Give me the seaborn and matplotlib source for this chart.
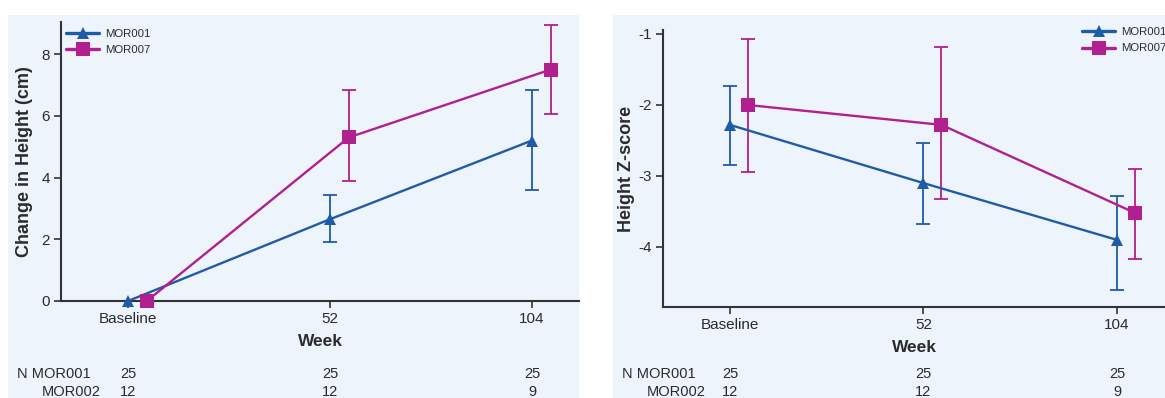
import numpy as np
import pandas as pd
import matplotlib
matplotlib.use("Agg")
import matplotlib.pyplot as plt
import matplotlib.transforms as mtransforms
from matplotlib.patches import Rectangle
import seaborn as sns

# ---- data ----
weeks = ["Baseline", "52", "104"]
groups = ["MOR001", "MOR007"]

# left panel: change in height (cm)
chg_mor001 = [0.0, 2.65, 5.2]
chg_mor001_lo = [0.0, 1.9, 3.6]
chg_mor001_hi = [0.0, 3.45, 6.85]
chg_mor007 = [0.0, 5.3, 7.5]
chg_mor007_lo = [0.0, 3.9, 6.05]
chg_mor007_hi = [0.0, 6.85, 8.95]

# right panel: height z-score
z_mor001 = [-2.28, -3.1, -3.9]
z_mor001_lo = [-2.85, -3.67, -4.6]
z_mor001_hi = [-1.73, -2.53, -3.28]
z_mor007 = [-2.0, -2.28, -3.52]
z_mor007_lo = [-2.95, -3.32, -4.17]
z_mor007_hi = [-1.07, -1.19, -2.9]

# number of subjects table
n_labels = ["N MOR001", "MOR002"]
n_mor001 = [25, 25, 25]
n_mor002 = [12, 12, 9]

COLORS = {"MOR001": "#1f5ba6", "MOR007": "#b0208e"}
MARKERS = {"MOR001": "^", "MOR007": "s"}
MSIZE = {"MOR001": 8, "MOR007": 9.5}
DODGE = {"MOR001": 0.0, "MOR007": 0.093}
BG = "#eef4fb"
TXT = "#2b2b2b"

sns.set_theme(style="ticks")
plt.rcParams["font.family"] = ["Liberation Sans", "DejaVu Sans"]
plt.rcParams["axes.unicode_minus"] = False

fig = plt.figure(figsize=(11.65, 3.98), dpi=100)
fig.patch.set_facecolor("white")
W, H = 1165, 398

# panel backgrounds (in pixels -> figure fraction)
for x0, x1 in [(8, 579), (613, 1165)]:
    fig.patches.append(Rectangle((x0 / W, 0), (x1 - x0) / W, 1 - 15 / H,
                                 transform=fig.transFigure, facecolor=BG,
                                 edgecolor="none", zorder=-10))


def px_axes(left, right, top, bottom):
    return fig.add_axes([left / W, 1 - bottom / H, (right - left) / W, (bottom - top) / H])


def draw_panel(ax, vals, los, his, ylabel, xlim, ylim, yticks, legend_anchor, ylabel_x):
    rows = []
    for g, v in zip(groups, vals):
        for i, y in enumerate(v):
            rows.append({"x": i + DODGE[g], "y": y, "group": g})
    df = pd.DataFrame(rows)
    sns.lineplot(data=df, x="x", y="y", hue="group", style="group",
                 palette=COLORS, markers=MARKERS, dashes=False, lw=1.7,
                 ax=ax, legend=True, markeredgewidth=0, clip_on=False, zorder=3)
    for g, v, lo, hi in zip(groups, vals, los, his):
        x = np.arange(len(v)) + DODGE[g]
        v = np.asarray(v)
        yerr = [v - np.asarray(lo), np.asarray(hi) - v]
        ax.errorbar(x, v, yerr=yerr, fmt="none", ecolor=COLORS[g], elinewidth=1.3,
                    capsize=5, capthick=1.3, zorder=2, clip_on=False)
    handles, labels = ax.get_legend_handles_labels()
    for h, l in zip(handles, labels):
        h.set_markersize(MSIZE.get(l, 8))
        h.set_linewidth(2.4)
    for line, g in zip(ax.lines[:2], groups):
        line.set_markersize(MSIZE[g])
    ax.legend(handles, labels, loc="upper left", bbox_to_anchor=legend_anchor,
              frameon=False, fontsize=8.2, handlelength=2.9, handletextpad=0.5,
              labelspacing=0.55, borderaxespad=0, borderpad=0, labelcolor=TXT)

    ax.patch.set_alpha(0)
    ax.set_xlim(*xlim)
    ax.set_ylim(*ylim)
    ax.set_yticks(yticks)
    ax.set_xticks(range(len(weeks)))
    ax.set_xticklabels(weeks)
    ax.set_xlabel("Week", fontsize=12.5, fontweight="bold", color=TXT, labelpad=6)
    ax.set_ylabel(ylabel, fontsize=13, fontweight="bold", color=TXT)
    ax.yaxis.set_label_coords(ylabel_x, 0.5)
    for s in ["top", "right"]:
        ax.spines[s].set_visible(False)
    for s in ["left", "bottom"]:
        ax.spines[s].set_color("#333333")
        ax.spines[s].set_linewidth(1.5)
    ax.tick_params(axis="both", direction="out", length=5, width=1.2,
                   colors="#333333", labelsize=11, labelcolor=TXT, pad=3)

    # N table below the axis
    trans = mtransforms.blended_transform_factory(ax.transData, fig.transFigure)
    for i in range(len(weeks)):
        ax.text(i, 1 - 374 / H, str(n_mor001[i]), transform=trans, ha="center",
                va="center", fontsize=10.5, color=TXT)
        ax.text(i, 1 - 392 / H, str(n_mor002[i]), transform=trans, ha="center",
                va="center", fontsize=10.5, color=TXT)


# left panel
ax1 = px_axes(61, 579, 22, 301)
draw_panel(ax1, [chg_mor001, chg_mor007], [chg_mor001_lo, chg_mor007_lo],
           [chg_mor001_hi, chg_mor007_hi], "Change in Height (cm)",
           (-0.332, 2.233), (0, 9.04), [0, 2, 4, 6, 8], (0.01, 0.975), -0.054)
fig.text(17 / W, 1 - 374 / H, n_labels[0], ha="left", va="center", fontsize=10.5, color=TXT)
fig.text(101 / W, 1 - 392 / H, n_labels[1], ha="right", va="center", fontsize=10.5, color=TXT)

# right panel
ax2 = px_axes(663, 1165, 30, 307)
draw_panel(ax2, [z_mor001, z_mor007], [z_mor001_lo, z_mor007_lo],
           [z_mor001_hi, z_mor007_hi], "Height Z-score",
           (-0.346, 2.248), (-4.845, -0.944), [-4, -3, -2, -1], (0.835, 1.01), -0.056)
fig.text(622 / W, 1 - 374 / H, n_labels[0], ha="left", va="center", fontsize=10.5, color=TXT)
fig.text(706 / W, 1 - 392 / H, n_labels[1], ha="right", va="center", fontsize=10.5, color=TXT)

fig.savefig("out.png", dpi=100, facecolor="white")
